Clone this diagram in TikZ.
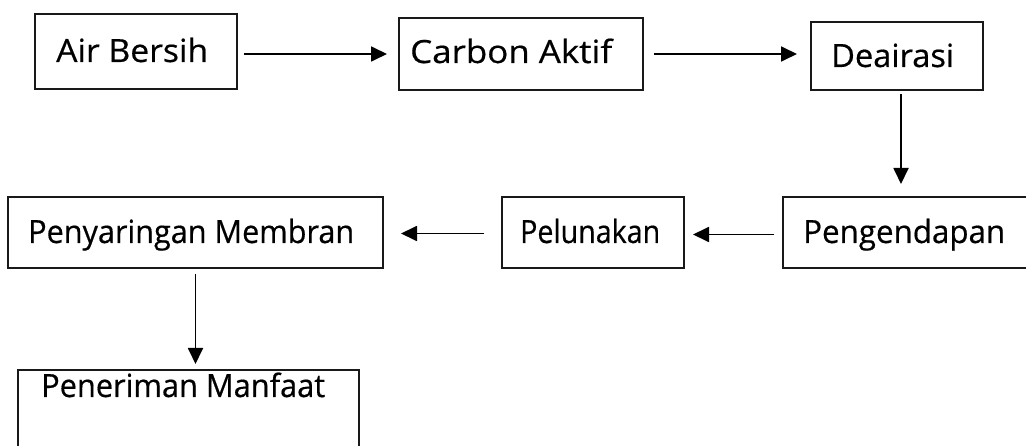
\documentclass[tikz,border=0pt]{standalone}
\usepackage{fontspec}
\setmainfont{Open Sans}
\newfontfamily\lblfont[FakeBold=0.5]{Open Sans}
\usetikzlibrary{arrows.meta}
% set a label and stretch it horizontally to a given width
\newsavebox\lblbox
\newcommand\fitlabel[2]{%
  \sbox\lblbox{#2}%
  \pgfmathsetmacro\lblratio{#1/\the\wd\lblbox}%
  \scalebox{\lblratio}[1]{\usebox\lblbox}}
\begin{document}
\begin{tikzpicture}[x=1pt,y=-1pt,
  box/.style={draw=black!90,line width=2pt,inner sep=0pt},
  txt/.style={anchor=base west,inner sep=0pt,font=\fontsize{32}{38}\lblfont},
  flow/.style={line width=1.8pt,-{Triangle[length=16pt,width=15pt]}}]
\useasboundingbox (0,0) rectangle (1026,446);
\clip (0,0) rectangle (1026,446);
% process boxes
\node[box,minimum width=202pt,minimum height=75pt] (A) at (136,51.5) {};
\node[box,minimum width=244pt,minimum height=72pt] (B) at (521,54) {};
\node[box,minimum width=172pt,minimum height=68pt] (C) at (897,56) {};
\node[box,minimum width=260pt,minimum height=71pt] (D) at (913,232.5) {};
\node[box,minimum width=182pt,minimum height=71pt] (E) at (593,232.5) {};
\node[box,minimum width=375pt,minimum height=71pt] (F) at (195.5,232.5) {};
\node[box,minimum width=341pt,minimum height=100pt] (G) at (188.5,420) {};
% labels
\node[txt] (tA) at (56,62) {\fitlabel{152}{Air Bersih}};
\node[txt] (tB) at (410,63) {\fitlabel{202}{Carbon Aktif}};
\node[txt] (tC) at (831,67) {\fitlabel{123}{Deairasi}};
\node[txt] (tD) at (803,243) {\fitlabel{202}{Pengendapan}};
\node[txt] (tE) at (520,243) {\fitlabel{140}{Pelunakan}};
\node[txt] (tF) at (28,243) {\fitlabel{326}{Penyaringan Membran}};
\node[txt] (tG) at (41,397) {\fitlabel{284}{Peneriman Manfaat}};
% connectors
\draw[flow,shorten <=6pt,shorten >=11pt] (A.east |- B.west) -- (B.west);
\draw[flow,shorten <=10pt,shorten >=13pt] (B.east) -- (B.east -| C.west);
\draw[flow,shorten <=3pt,shorten >=12pt] ([xshift=4pt]C.south) -- ([xshift=4pt]C.south |- D.north);
\draw[flow,shorten <=8pt,shorten >=8pt] ([yshift=-2pt]D.west) -- ([yshift=-2pt]D.west -| E.east);
\draw[flow,shorten <=17pt,shorten >=17pt] ([yshift=-1pt]E.west) -- ([yshift=-1pt]E.west -| F.east);
\draw[flow,shorten <=5pt,shorten >=5pt] (F.south) -- (F.south |- G.north);
\end{tikzpicture}
\end{document}
